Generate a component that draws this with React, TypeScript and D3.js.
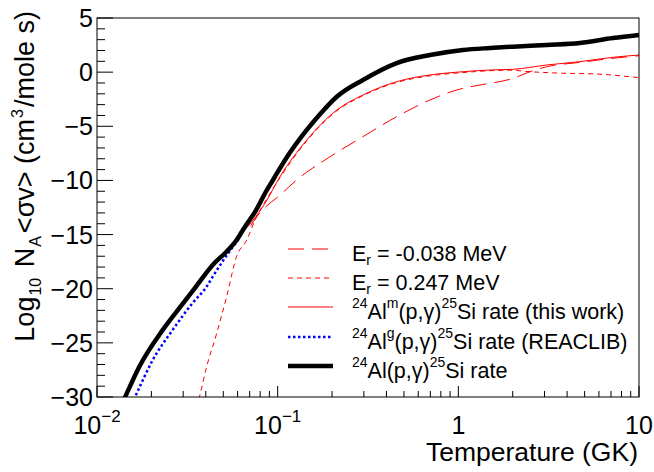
import * as d3 from "d3";

// log10(T [GK]) , log10 rate
const totalRate: [number, number][] = [
  [-1.88, -31.3], [-1.839, -29.8], [-1.766, -27.2], [-1.636, -23.8], [-1.526, -21.4],
  [-1.452, -19.8], [-1.351, -17.65], [-1.292, -16.72], [-1.227, -15.5], [-1.181, -14.27],
  [-1.125, -12.9], [-1.07, -11.19], [-1.026, -9.96], [-0.959, -8.11], [-0.839, -5.34],
  [-0.756, -3.7], [-0.673, -2.27], [-0.528, -0.72], [-0.341, 0.84], [-0.157, 1.58],
  [0.026, 2.05], [0.175, 2.23], [0.303, 2.35], [0.489, 2.51], [0.673, 2.69],
  [0.856, 3.15], [1.0, 3.43],
];
const reaclibRate: [number, number][] = [
  [-1.82, -31.1], [-1.784, -29.8], [-1.692, -26.6], [-1.581, -23.8], [-1.47, -21.3],
  [-1.393, -19.8], [-1.36, -18.9], [-1.254, -16.26], [-1.215, -15.4],
];
const thisWorkRate: [number, number][] = [
  [-1.218, -15.19], [-1.135, -13.65], [-1.07, -12.11], [-0.987, -9.65], [-0.839, -6.27],
  [-0.673, -3.5], [-0.528, -2.11], [-0.341, -0.88], [-0.157, -0.26], [0.026, 0.04],
  [0.175, 0.2], [0.303, 0.26], [0.489, 0.66], [0.673, 0.97], [0.856, 1.37], [1.0, 1.58],
];
const subThresholdRate: [number, number][] = [
  [-1.15, -14.2], [-1.116, -13.35], [-0.987, -11.35], [-0.895, -9.96], [-0.71, -7.81],
  [-0.528, -5.96], [-0.341, -4.11], [-0.157, -2.57], [0.026, -1.49], [0.12, -1.19],
  [0.303, -0.57], [0.397, 0.04], [0.489, 0.5], [0.673, 0.9], [0.856, 1.28], [1.0, 1.52],
];
const resonanceRate: [number, number][] = [
  [-1.45, -31.0], [-1.43, -29.8], [-1.393, -27.2], [-1.337, -24.1], [-1.282, -20.7],
  [-1.227, -17.0], [-1.171, -15.5], [-1.125, -13.65], [-1.053, -11.5], [-0.987, -9.75],
  [-0.839, -6.35], [-0.673, -3.58], [-0.528, -2.17], [-0.341, -0.95], [-0.157, -0.34],
  [0.026, -0.04], [0.175, 0.13], [0.286, 0.18], [0.397, 0.04], [0.579, -0.1],
  [0.766, -0.17], [0.967, -0.45], [1.0, -0.5],
];

const xTickLabels = [
  { v: 0.01, base: "10", exp: "\u22122" },
  { v: 0.1, base: "10", exp: "\u22121" },
  { v: 1, base: "1", exp: "" },
  { v: 10, base: "10", exp: "" },
];
const yMajor = [5, 0, -5, -10, -15, -20, -25, -30];

const W = 654, H = 472;
const left = 97, right = 639, top = 18, bottom = 397;
const font = "'Liberation Sans', Arial, Helvetica, sans-serif";

export default function App() {
  const x = d3.scaleLog().domain([0.01, 10]).range([left, right]);
  const y = d3.scaleLinear().domain([-30, 5]).range([bottom, top]);
  const line = d3
    .line<[number, number]>()
    .x((d) => x(Math.pow(10, d[0])))
    .y((d) => y(d[1]))
    .curve(d3.curveMonotoneX);

  const xt = x.ticks();
  const yt = y.ticks(35);

  const series = [
    { data: subThresholdRate, color: "#ff0000", width: 1, dash: "16,8" },
    { data: resonanceRate, color: "#ff0000", width: 1, dash: "5,4" },
    { data: thisWorkRate, color: "#ff0000", width: 1, dash: "" },
    { data: reaclibRate, color: "#0000ff", width: 2.5, dash: "2.5,2.5" },
    { data: totalRate, color: "#000000", width: 4.5, dash: "" },
  ];

  const legendY = [249, 278, 307, 337, 366];
  const sup = (t: string) => (
    <tspan fontSize={14} dy={-11}>{t}</tspan>
  );
  const back = (t: string) => <tspan fontSize={21.5} dy={11}>{t}</tspan>;
  const legendLabels = [
    <>E<tspan fontSize={14} dy={4}>r</tspan><tspan dy={-4}> = -0.038 MeV</tspan></>,
    <>E<tspan fontSize={14} dy={4}>r</tspan><tspan dy={-4}> = 0.247 MeV</tspan></>,
    <>{sup("24")}{back("Al")}{sup("m")}{back("(p,\u03b3)")}{sup("25")}{back("Si rate (this work)")}</>,
    <>{sup("24")}{back("Al")}{sup("g")}{back("(p,\u03b3)")}{sup("25")}{back("Si rate (REACLIB)")}</>,
    <>{sup("24")}{back("Al(p,\u03b3)")}{sup("25")}{back("Si rate")}</>,
  ];

  return (
    <svg width={W} height={H} style={{ position: "absolute", left: 0, top: 0, background: "#fff" }} fontFamily={font}>
      <defs>
        <clipPath id="plot">
          <rect x={left} y={top} width={right - left} height={bottom - top} />
        </clipPath>
      </defs>

      {/* ticks */}
      {xt.map((t, i) => {
        const major = Math.abs(Math.log10(t) - Math.round(Math.log10(t))) < 1e-6;
        return (
          <line key={"xt" + i} x1={x(t)} x2={x(t)} y1={bottom} y2={bottom - (major ? 11 : 6)} stroke="#000" strokeWidth={1} />
        );
      })}
      {yt.map((t) => (
        <line key={"yt" + t} x1={left} x2={left + (t % 5 === 0 ? 16 : 8)} y1={y(t)} y2={y(t)} stroke="#000" strokeWidth={1} />
      ))}

      {/* curves */}
      <g clipPath="url(#plot)">
        {series.map((s, i) => (
          <path key={i} d={line(s.data) || ""} fill="none" stroke={s.color} strokeWidth={s.width} strokeDasharray={s.dash || undefined} />
        ))}
      </g>

      <rect x={left} y={top} width={right - left} height={bottom - top} fill="none" stroke="#000" strokeWidth={1} />

      {/* y tick labels */}
      {yMajor.map((v) => (
        <text key={"yl" + v} x={93} y={y(v) + 9} fontSize={25} textAnchor="end">
          {v < 0 ? "\u2212" + Math.abs(v) : String(v)}
        </text>
      ))}

      {/* x tick labels */}
      {xTickLabels.map((l) => (
        <text key={"xl" + l.v} x={x(l.v)} y={434} fontSize={25} textAnchor="middle">
          {l.base}
          {l.exp && <tspan fontSize={17} dy={-12}>{l.exp}</tspan>}
        </text>
      ))}

      {/* axis titles */}
      <text x={638} y={461} fontSize={26.5} textAnchor="end">Temperature (GK)</text>
      <text transform="translate(34,11) rotate(-90)" fontSize={27} textAnchor="end">
        Log<tspan fontSize={16} dx={1} dy={7}>10</tspan>
        <tspan dx={3} dy={-7}> N</tspan>
        <tspan fontSize={16} dx={1} dy={7}>A</tspan>
        <tspan dx={3} dy={-7}>{"<\u03c3v> (cm"}</tspan>
        <tspan fontSize={16} dx={1} dy={-11}>3</tspan>
        <tspan dx={2} dy={11}>/mole s)</tspan>
      </text>

      {/* legend */}
      {series.map((s, i) => (
        <g key={"lg" + i}>
          <line x1={288} x2={333} y1={legendY[i]} y2={legendY[i]} stroke={s.color} strokeWidth={s.width} strokeDasharray={s.dash || undefined} />
          <text x={352} y={legendY[i] + 12} fontSize={21.5}>{legendLabels[i]}</text>
        </g>
      ))}
    </svg>
  );
}
